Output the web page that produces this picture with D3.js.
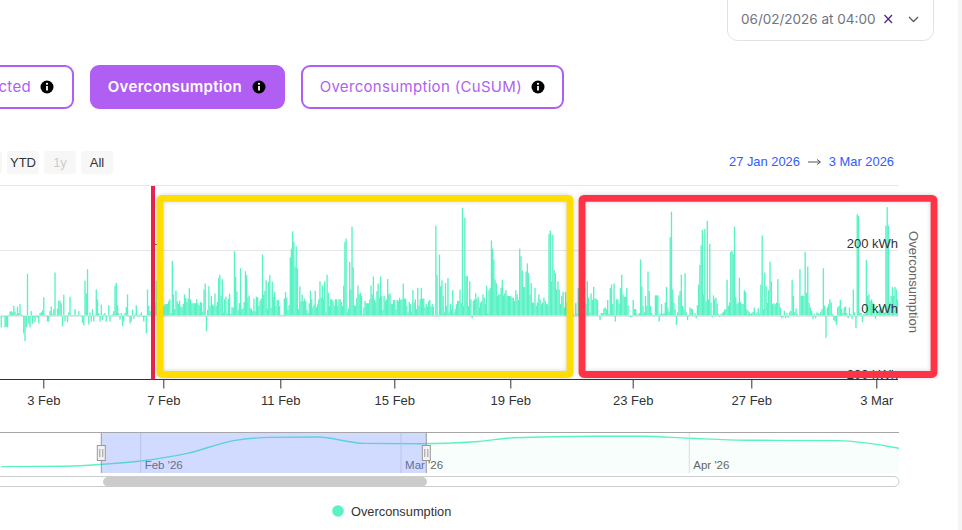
<!DOCTYPE html>
<html>
<head>
<meta charset="utf-8">
<script src="https://cdn.jsdelivr.net/npm/d3@7"></script>
<style>
body { margin: 0; background: #fff; overflow: hidden; }
text { font-family: "Liberation Sans", Arial, sans-serif; }
.ui { font-family: Inter, sans-serif; }
.xaxis text, .yaxis text { font-size: 13px; font-family: "Liberation Sans", Arial, sans-serif; }
.xaxis text { fill: #333; }
.yaxis text { fill: #333; }
</style>
</head>
<body>
<div id="graph"></div>
<script>
// hourly overconsumption (kWh), one array per day
var feb01 = [-36,-2,-2,-36,-34,-36,2,12,14,10];
var feb02 = [30,12,4,28,8,35,4,2,-55,-78,-36,128,-25,-36,14,-25,-6,-20,-3,-6,-24,8,10,16];
var feb03 = [56,2,2,-18,-18,14,28,4,20,132,2,22,46,46,38,-33,64,-18,2,-20,10,58,2,2];
var feb04 = [2,20,2,2,14,2,2,-22,-30,107,68,142,-27,10,-18,20,-18,2,80,50,8,-18,34,-14];
var feb05 = [4,8,-18,2,32,-18,2,4,14,92,100,32,8,-12,8,-32,-18,8,26,65,2,-24,-18,18];
var feb06 = [-10,4,32,4,-3,4,10,-3,-18,-4,-54,80,30,14,10,10,5,40,107,30,20,30,25,30];
var feb07 = [30,35,35,36,44,50,8,167,65,20,77,44,36,46,28,26,36,65,54,42,52,84,50,35];
var feb08 = [38,38,38,50,38,32,42,40,12,80,98,-48,18,90,30,60,34,30,68,30,42,116,125,60];
var feb09 = [112,10,50,58,8,52,67,5,26,24,197,118,74,18,38,145,20,22,42,136,124,56,62,22];
var feb10 = [22,14,52,14,58,56,30,46,52,187,64,76,108,22,104,124,24,104,58,72,30,48,48,30];
var feb11 = [2,2,2,52,72,55,18,32,178,205,258,226,150,212,145,20,90,44,64,44,52,44,18,8];
var feb12 = [38,76,50,25,34,76,26,35,50,105,55,92,52,105,10,125,70,30,50,50,45,30,50,50];
var feb13 = [30,50,50,42,30,92,225,236,10,22,164,80,272,148,32,30,55,92,65,70,60,4,25,45];
var feb14 = [38,38,38,50,92,65,120,48,40,75,98,55,120,60,18,60,45,50,112,65,68,35,35,48];
var feb15 = [48,20,48,45,55,48,50,98,52,52,30,10,42,35,12,78,40,50,20,85,30,50,85,52];
var feb16 = [52,25,35,28,44,48,28,36,28,2,275,125,-3,187,90,108,60,10,100,30,115,10,35,20];
var feb17 = [78,10,20,35,45,45,80,38,330,30,300,120,122,30,105,50,-8,45,50,68,50,58,25,40];
var feb18 = [45,65,55,35,92,8,78,85,230,205,172,110,100,60,65,65,85,110,62,68,78,62,60,60];
var feb19 = [60,55,55,45,78,65,48,205,182,138,88,88,135,160,130,65,100,40,40,85,30,40,65,50];
var feb20 = [35,40,55,45,35,35,250,260,105,248,140,130,80,105,80,35,60,72,25,72,40,30,20,15];
var feb21 = [15,5,2,38,5,84,20,15,15,10,10,36,105,55,10,68,48,88,52,52,48,2,-14,8];
var feb22 = [8,22,25,20,48,5,84,95,35,98,-18,50,50,35,84,125,65,58,58,84,32,-2,-5,-3];
var feb23 = [48,20,20,6,2,8,172,90,30,10,60,30,135,75,30,8,2,-3,62,62,62,-18,5,35];
var feb24 = [5,8,40,88,25,12,240,318,80,40,20,-28,10,62,75,125,30,18,130,10,-14,2,25,22];
var feb25 = [20,-2,8,-8,32,95,155,215,262,65,265,45,290,50,220,40,-5,62,50,55,35,5,-4,4];
var feb26 = [8,12,18,20,110,30,40,195,198,188,272,58,36,40,116,42,36,35,78,72,20,15,10,5];
var feb27 = [8,12,25,4,10,22,5,95,245,20,132,90,40,78,165,105,35,38,35,40,112,38,25,-8];
var feb28 = [-5,15,-8,8,-6,10,15,110,60,10,22,5,-2,142,60,62,60,195,70,150,40,25,15,-10];
var mar01 = [5,-8,10,8,5,12,20,145,30,-68,25,35,50,40,5,-14,-18,-28,25,30,48,20,8,25];
var mar02 = [28,8,-8,25,5,-10,80,10,-38,310,305,10,8,-20,5,10,170,60,65,45,50,40,35,-10];
var mar03 = [15,15,18,25,25,30,10,275,332,275,40,60,88,60,88,80,50];

var dayArrays = [feb01,feb02,feb03,feb04,feb05,feb06,feb07,feb08,feb09,feb10,feb11,feb12,feb13,feb14,feb15,
    feb16,feb17,feb18,feb19,feb20,feb21,feb22,feb23,feb24,feb25,feb26,feb27,feb28,mar01,mar02,mar03];

var tickDates = ["2026-02-03","2026-02-07","2026-02-11","2026-02-15","2026-02-19","2026-02-23","2026-02-27","2026-03-03"];
var yTicks = [200, 0, -200];

// navigator series, relative height 0-100
var navDates = ["2026-01-17","2026-01-24","2026-01-28","2026-02-01","2026-02-06","2026-02-11","2026-02-15","2026-02-20","2026-02-25","2026-03-03",
    "2026-03-09","2026-03-13","2026-03-22","2026-03-27","2026-04-01","2026-04-07","2026-04-17","2026-04-24"];
var navValues = [16,17,22,30,49,81,89,90,74,73,78,88,92,92,87,82,81,60];
var navTicks = ["2026-02-01","2026-03-01","2026-04-01"];
var navTickLabels = ["Feb '26","Mar '26","Apr '26"];

var mint = "#5af2c5";
var purple = "#b05ff2";
var parse = d3.utcParse("%Y-%m-%d");

var svg = d3.select("#graph").append("svg")
    .attr("width", 962).attr("height", 530).style("display", "block");

// right page strip
svg.append("rect").attr("x", 958).attr("y", 0).attr("width", 4).attr("height", 530).attr("fill", "#f5f5f5");

// ---- main chart
var start = Date.UTC(2026, 1, 1, 14);
var data = [];
dayArrays.forEach(function(day, j) {
    var base = j == 0 ? start : Date.UTC(2026, 1, 1 + j);
    day.forEach(function(v, i) { data.push([new Date(base + i * 3600000), v]); });
});

// the axis is ordinal in the original so ticks are not quite evenly spaced
var x = d3.scaleUtc().domain(tickDates.map(parse)).range([43.3, 163.3, 280.3, 394.3, 510.3, 632.7, 751.3, 876.3]);
var y = d3.scaleLinear().domain([-200, 400]).range([381, 184.9]);

svg.append("clipPath").attr("id", "plot").append("rect")
    .attr("x", 0).attr("y", 180).attr("width", 898.5).attr("height", 200);

var gridVals = [400, 200, 0];
svg.selectAll(".grid").data(gridVals).enter().append("line")
    .attr("class", "grid")
    .attr("x1", 0).attr("x2", 898)
    .attr("y1", function(d) { return Math.round(y(d)) + 0.5; })
    .attr("y2", function(d) { return Math.round(y(d)) + 0.5; })
    .attr("stroke", "#e6e6e6");

svg.append("g").attr("clip-path", "url(#plot)")
    .selectAll("rect").data(data).enter().append("rect")
    .attr("x", function(d) { return x(d[0]) - 0.2; })
    .attr("width", 1.35)
    .attr("y", function(d) { return d[1] > 0 ? y(d[1]) : y(0); })
    .attr("height", function(d) { return Math.abs(y(d[1]) - y(0)); })
    .attr("fill", mint);

var xAxis = d3.axisBottom(x).tickValues(tickDates.map(parse)).tickSize(9).tickPadding(7).tickFormat(d3.utcFormat("%-d %b"));
var gx = svg.append("g").attr("class", "xaxis").attr("transform", "translate(0,379.5)").call(xAxis);
gx.select(".domain").remove();
gx.selectAll("line").attr("stroke", "#333");
svg.append("line").attr("x1", 0).attr("x2", 898).attr("y1", 379.5).attr("y2", 379.5).attr("stroke", "#333");

var yAxis = d3.axisLeft(y).tickValues(yTicks).tickSize(0).tickPadding(0).tickFormat(function(d) { return d + " kWh"; });
var gy = svg.append("g").attr("class", "yaxis").attr("transform", "translate(898,0)").call(yAxis);
gy.select(".domain").remove();
gy.selectAll("text").attr("dy", "-0.22em");

svg.append("text").attr("transform", "translate(909,282) rotate(90)")
    .attr("text-anchor", "middle").attr("font-size", 13).attr("fill", "#666").text("Overconsumption");

// leftover mark next to the cursor line
svg.append("line").attr("x1", 155).attr("x2", 157).attr("y1", 244.5).attr("y2", 244.5).attr("stroke", "#555");

// hand drawn annotations over the chart
svg.append("rect").attr("x", 151).attr("y", 186).attr("width", 4).attr("height", 193.5).attr("fill", "#e8234f");
svg.append("rect").attr("x", 160).attr("y", 198.3).attr("width", 410).attr("height", 176.2).attr("rx", 2)
    .attr("fill", "none").attr("stroke", "#ffdd00").attr("stroke-width", 6.8)
    .style("filter", "drop-shadow(0 0 2px rgba(0,0,0,.18))");
svg.append("rect").attr("x", 582).attr("y", 198.3).attr("width", 352).attr("height", 176.2).attr("rx", 2)
    .attr("fill", "none").attr("stroke", "#ff3345").attr("stroke-width", 6.8)
    .style("filter", "drop-shadow(0 0 2px rgba(0,0,0,.18))");

// ---- navigator
var navX = d3.scaleUtc().domain([parse("2026-02-01"), parse("2026-04-01")]).range([140.7, 689.3]);
var navY = d3.scaleLinear().domain([0, 100]).range([473, 433]);
var navData = navDates.map(function(d, i) { return [parse(d), navValues[i]]; });
var selLeft = 101.3, selRight = 426.3;

svg.append("clipPath").attr("id", "nav").append("rect")
    .attr("x", 0).attr("y", 430).attr("width", 899).attr("height", 45);
svg.append("clipPath").attr("id", "navRight").append("rect")
    .attr("x", selRight).attr("y", 430).attr("width", 899 - selRight).attr("height", 43);

var nav = svg.append("g").attr("clip-path", "url(#nav)");
var area = d3.area().curve(d3.curveMonotoneX).x(function(d) { return navX(d[0]); })
    .y0(473).y1(function(d) { return navY(d[1]); });
var navLine = d3.line().curve(d3.curveMonotoneX).x(function(d) { return navX(d[0]); })
    .y(function(d) { return navY(d[1]); });

nav.append("path").attr("d", area(navData)).attr("fill", mint).attr("opacity", 0.05).attr("clip-path", "url(#navRight)");
nav.append("path").attr("d", navLine(navData)).attr("fill", "none").attr("stroke", mint).attr("stroke-width", 1.4);

navTicks.forEach(function(t, i) {
    var px = navX(parse(t));
    nav.append("line").attr("x1", px).attr("x2", px).attr("y1", 433).attr("y2", 473).attr("stroke", "#ddd");
    nav.append("text").attr("x", px + 4).attr("y", 469).attr("font-size", 11.5).attr("fill", "#666").text(navTickLabels[i]);
});

svg.append("rect").attr("x", selLeft).attr("y", 433).attr("width", selRight - selLeft).attr("height", 40)
    .attr("fill", "#6685ff").attr("opacity", 0.3);
svg.append("line").attr("x1", 0).attr("x2", 899).attr("y1", 432.5).attr("y2", 432.5).attr("stroke", "#a6a6a6");

[selLeft, selRight].forEach(function(px) {
    svg.append("line").attr("x1", px).attr("x2", px).attr("y1", 433).attr("y2", 473).attr("stroke", "#999");
    svg.append("rect").attr("x", px - 4).attr("y", 445.5).attr("width", 8).attr("height", 15)
        .attr("fill", "#f2f2f2").attr("stroke", "#999");
    [-1.5, 1.5].forEach(function(o) {
        svg.append("line").attr("x1", px + o).attr("x2", px + o).attr("y1", 449).attr("y2", 457).attr("stroke", "#999");
    });
});

// scrollbar
svg.append("rect").attr("x", -10).attr("y", 476.5).attr("width", 909).attr("height", 10).attr("rx", 5)
    .attr("fill", "#fff").attr("stroke", "#ccc");
svg.append("rect").attr("x", 103).attr("y", 477).attr("width", 324).attr("height", 9.5).attr("rx", 4.7).attr("fill", "#ccc");

// legend
svg.append("circle").attr("cx", 338).attr("cy", 511).attr("r", 5.8).attr("fill", mint);
svg.append("text").attr("x", 351).attr("y", 515.5).attr("font-size", 12.8).attr("fill", "#333").text("Overconsumption");

// ---- controls above the chart
function infoIcon(cx) {
    svg.append("circle").attr("cx", cx).attr("cy", 87).attr("r", 6.5).attr("fill", "#000");
    svg.append("rect").attr("x", cx - 0.9).attr("y", 86).attr("width", 1.8).attr("height", 4.5).attr("fill", "#fff");
    svg.append("circle").attr("cx", cx).attr("cy", 83.8).attr("r", 1.1).attr("fill", "#fff");
}
function button(bx, bw, label, textEnd, filled) {
    svg.append("rect").attr("x", bx).attr("y", 66).attr("width", bw).attr("height", 42).attr("rx", 8)
        .attr("fill", filled ? purple : "#fff").attr("stroke", purple).attr("stroke-width", 2);
    svg.append("text").attr("class", "ui").attr("x", textEnd).attr("y", 92).attr("text-anchor", "end")
        .attr("font-size", 15).attr("letter-spacing", 0.32).attr("font-weight", filled ? 600 : 400).attr("fill", filled ? "#fff" : purple).text(label);
}
button(-80, 153, "Expected", 31, false); infoIcon(47);
button(91, 193, "Overconsumption", 242, true); infoIcon(259);
button(302, 261, "Overconsumption (CuSUM)", 522, false); infoIcon(538);

// range selector buttons
var rangeLabels = ["YTD", "1y", "All"];
var rangeCenters = [23, 60, 97];
svg.append("rect").attr("x", -20).attr("y", 151).attr("width", 22).attr("height", 23).attr("rx", 3).attr("fill", "#f7f7f7");
rangeLabels.forEach(function(l, i) {
    svg.append("rect").attr("x", rangeCenters[i] - 16).attr("y", 151).attr("width", 32).attr("height", 23).attr("rx", 3).attr("fill", "#f7f7f7");
    svg.append("text").attr("x", rangeCenters[i]).attr("y", 167).attr("text-anchor", "middle")
        .attr("font-size", 13).attr("fill", l == "1y" ? "#ccc" : "#333").text(l);
});

// date range
svg.append("text").attr("x", 729).attr("y", 166).attr("font-size", 12.9).attr("fill", "#2f5bff").text("27 Jan 2026");
svg.append("path").attr("d", "M808 162 H820 M817 159.5 L820.5 162 L817 164.5").attr("stroke", "#555").attr("fill", "none");
svg.append("text").attr("x", 894).attr("y", 166).attr("text-anchor", "end").attr("font-size", 12.9).attr("fill", "#2f5bff").text("3 Mar 2026");

// date picker
svg.append("rect").attr("x", 727.5).attr("y", -20).attr("width", 206).attr("height", 60.5).attr("rx", 10)
    .attr("fill", "#fff").attr("stroke", "#e2e2e2");
svg.append("text").attr("class", "ui").attr("x", 741).attr("y", 23.5).attr("font-size", 13.5).attr("fill", "#6f7384").text("06/02/2026 at 04:00");
svg.append("path").attr("d", "M884.5 15 L892 23 M892 15 L884.5 23").attr("stroke", "#4b2a8c").attr("stroke-width", 1.3).attr("fill", "none");
svg.append("path").attr("d", "M909 17 L913.5 21.5 L918 17").attr("stroke", "#555a6b").attr("stroke-width", 1.3).attr("fill", "none");
</script>
</body>
</html>
